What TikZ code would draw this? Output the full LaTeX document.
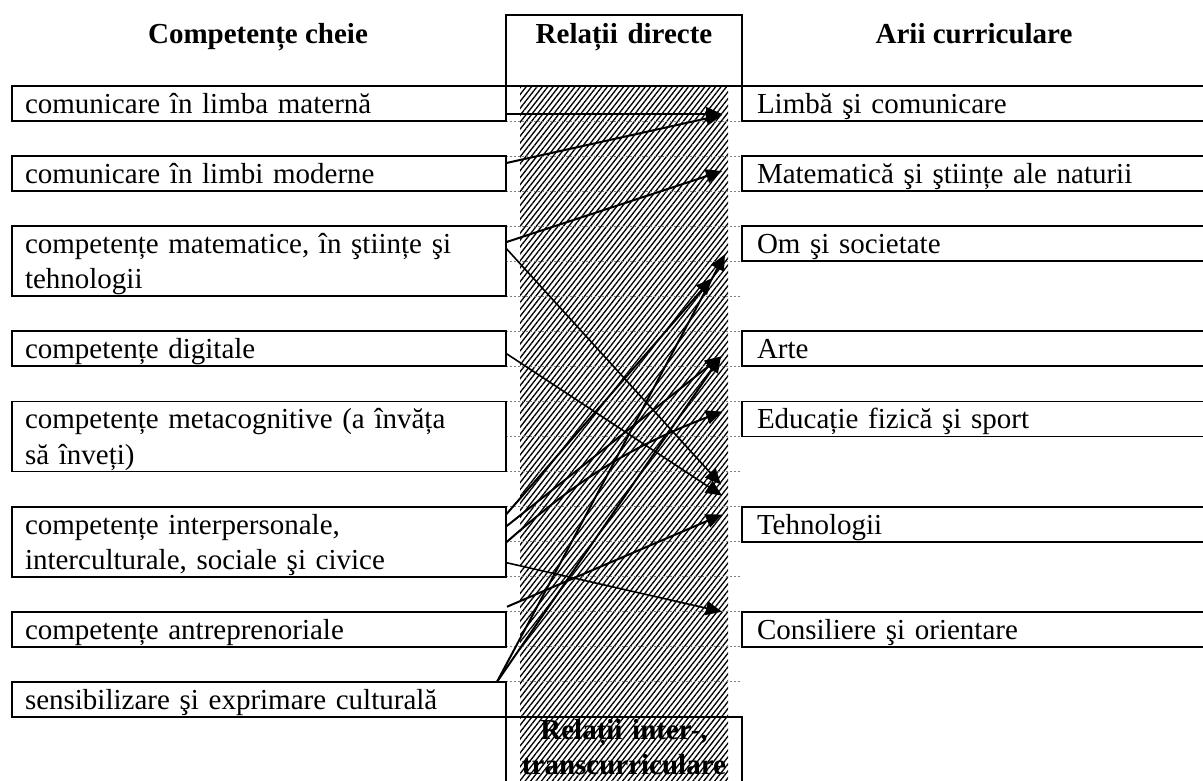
\documentclass[tikz,border=0pt]{standalone}
\usepackage{fontspec}
\setmainfont{Liberation Serif}
\usetikzlibrary{arrows.meta,patterns.meta,calc}
\begin{document}
\begin{tikzpicture}[x=0.75pt,y=-0.75pt,
  every node/.style={font=\fontsize{21.75}{26.29}\selectfont},
  box/.style={draw, line width=1.4pt, anchor=north west, outer sep=0pt, inner xsep=9.75pt, inner ysep=0pt,
    align=left, text height=15pt, text depth=0pt, minimum height=26.29pt},
  lbox/.style={box, minimum width=370.5pt, text width=351pt},
  rbox/.style={box, minimum width=347.25pt, inner xsep=11.25pt, text width=324.75pt},
  two/.style={minimum height=52.58pt, text depth=26.29pt},
  hdr/.style={font=\fontsize{21.75}{26.29}\selectfont\bfseries, anchor=base},
  midbox/.style={draw, line width=1.4pt, anchor=north west, outer sep=0pt, inner sep=0pt,
    minimum width=177pt, text width=177pt, align=center, text height=15pt,
    font=\fontsize{21.75}{26.29}\selectfont\bfseries},
  link/.style={line width=1.5pt, -{Triangle[length=12pt,width=10.5pt]}},
  thinlink/.style={link, line width=1.2pt},
  sep/.style={gray, line width=0.8pt, dash pattern=on 1.5pt off 1.5pt}
]
\useasboundingbox (0,0) rectangle (1203,781);

% hatched column
\fill[pattern={Lines[angle=52,distance=3.2pt,line width=1pt]}] (520,86) rectangle (728,781);
% dotted row separators
\foreach \k in {1,...,17} \draw[sep] (506,{86+35.05*\k}) -- (742,{86+35.05*\k});

% headers
\node[hdr] (hl) at (258,44) {Competențe cheie};
\node[hdr] (hr) at (974,44) {Arii curriculare};
\node[midbox, minimum height=53.25pt, text depth=24.75pt] (hmid) at (506,15) {Relații directe};
\node[midbox, minimum height=62.25pt, text depth=42.75pt] (hbot) at (506,716.9) {Relații inter-,\\transcurriculare};

% left column
\node[lbox] (l1) at (12,86) {comunicare în limba maternă};
\node[lbox] (l2) at (12,156.1) {comunicare în limbi moderne};
\node[lbox,two] (l3) at (12,226.2) {competențe matematice, în ştiințe şi\\tehnologii};
\node[lbox] (l4) at (12,331.35) {competențe digitale};
\node[lbox,two] (l5) at (12,401.45) {competențe metacognitive (a învăța\\să înveți)};
\node[lbox,two] (l6) at (12,506.6) {competențe interpersonale,\\interculturale, sociale şi civice};
\node[lbox] (l7) at (12,611.75) {competențe antreprenoriale};
\node[lbox] (l8) at (12,681.85) {sensibilizare şi exprimare culturală};

% right column
\node[rbox] (r1) at (742,86) {Limbă şi comunicare};
\node[rbox] (r2) at (742,156.1) {Matematică şi ştiințe ale naturii};
\node[rbox] (r3) at (742,226.2) {Om şi societate};
\node[rbox] (r4) at (742,331.35) {Arte};
\node[rbox] (r5) at (742,401.45) {Educație fizică şi sport};
\node[rbox] (r6) at (742,506.6) {Tehnologii};
\node[rbox] (r7) at (742,611.75) {Consiliere şi orientare};

% connectors
\draw[link] ($(l1.north east)+(0,28)$) -- ($(r1.north west)+(-20,28)$);
\draw[link] ($(l2.north east)+(0,7)$) -- ($(r1.north west)+(-20,29)$);
\draw[link] ($(l3.north east)+(0,16)$) -- ($(r2.north west)+(-20,15)$);
\draw[thinlink] ($(l3.north east)+(0,22)$) -- ($(r6.north west)+(-21,-22)$);
\draw[thinlink] ($(l4.north east)+(0,22)$) -- ($(r6.north west)+(-20,-11)$);
\draw[link] ($(l6.north east)+(0,8)$) -- ($(r3.north west)+(-30,52)$);
\draw[link] ($(l6.north east)+(0,20)$) -- ($(r4.north west)+(-21,25)$);
\draw[link] ($(l6.north east)+(0,36)$) to[bend left=10] ($(r5.north west)+(-20,10)$);
\draw[thinlink] ($(l6.north east)+(0,56)$) -- ($(r7.north west)+(-20,0)$);
\draw[link] ($(l7.north east)+(1,-5)$) -- ($(r6.north west)+(-20,8)$);
\draw[link] ($(l8.north east)+(-9,0)$) -- ($(r3.north west)+(-17,28)$);
\draw[link] ($(l8.north east)+(-9,0)$) -- ($(r4.north west)+(-21,25)$);
\end{tikzpicture}
\end{document}
